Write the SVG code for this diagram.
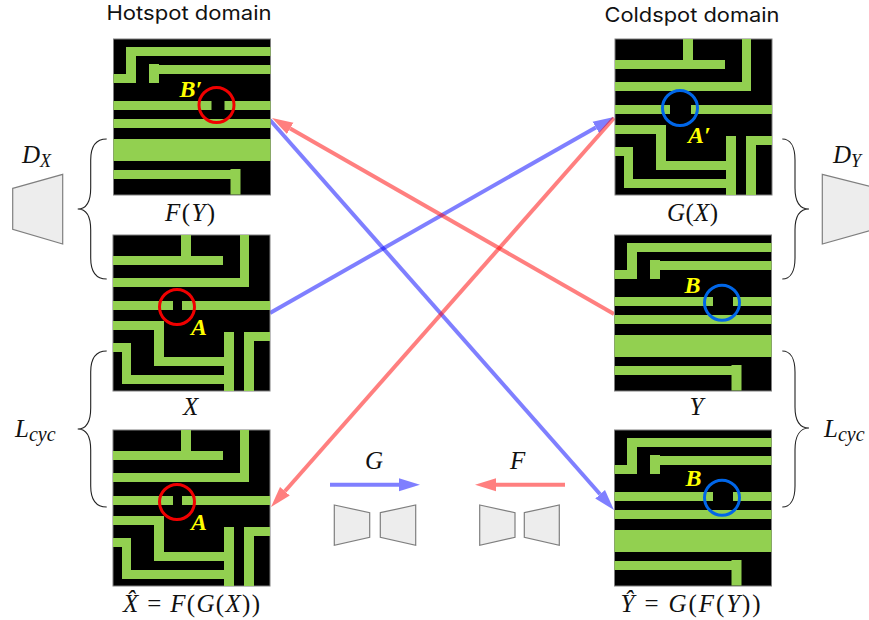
<svg xmlns="http://www.w3.org/2000/svg" xmlns:xlink="http://www.w3.org/1999/xlink" width="869" height="620" viewBox="0 0 869 620">
<style>
.bg{fill:#000;stroke:#7f7f7f;stroke-width:1}
.w{fill:#92d050}
.cr{fill:none;stroke:#f00000;stroke-width:3}
.cb{fill:none;stroke:#0066e8;stroke-width:3}
.tr{fill:#ededed;stroke:#7f7f7f;stroke-width:1.2}
.br{fill:none;stroke:#222;stroke-width:1.1}
.hd{font-family:Inter,"Noto Sans",sans-serif;font-size:20px;fill:#111}
.m{font-family:"Liberation Serif",serif;font-size:25px;fill:#111}
.i{font-style:italic}
.y{font-family:"Liberation Serif",serif;font-size:24px;font-weight:bold;font-style:italic;fill:#ffff00}
.ab{fill:none;stroke:#0000ff;stroke-opacity:.5;stroke-width:4}
.ar{fill:none;stroke:#ff0000;stroke-opacity:.5;stroke-width:4}
</style>
<defs>
<marker id="hb" markerUnits="userSpaceOnUse" markerWidth="22" markerHeight="14" refX="0" refY="7" orient="auto"><path d="M0,0.500L21,7L0,13.500Z" fill="#0000ff" fill-opacity=".5"/></marker>
<marker id="hr" markerUnits="userSpaceOnUse" markerWidth="22" markerHeight="14" refX="0" refY="7" orient="auto"><path d="M0,0.500L21,7L0,13.500Z" fill="#ff0000" fill-opacity=".5"/></marker>
<g id="w1"><path class="w" d="M68,0h10v21h32v9H0v-9h68zM127,0h9v52H0v-9h127z"/>
<path class="w" d="M0,86h51v36h70v9H41V95H0zM0,108h18v32h103v9H9V117H0zM111,97h10v59h-10zM131,97h26v9h-16v50h-10z"/></g>
<g id="w2"><path class="w" d="M12.500,8H157v9H22.500V44H0V35H12.500zM35.500,25h10v1H157v9H45.500v9h-10zM0,80h157v9H0zM0,100h157v22H0zM0,131h117v-1h10v25.500h-10v-15.500H0zM0,62h157v9H0z"/></g>
</defs>

<g id="connectors">
<line class="ab" x1="270" y1="120" x2="600.100" y2="494.250" marker-end="url(#hb)"/>
<line class="ab" x1="270" y1="313" x2="595.800" y2="127.400" marker-end="url(#hb)"/>
<line class="ar" x1="614" y1="314" x2="290.200" y2="128.400" marker-end="url(#hr)"/>
<line class="ar" x1="614" y1="118" x2="284.900" y2="491.250" marker-end="url(#hr)"/>
<line class="ab" x1="330" y1="484.700" x2="399" y2="484.700" marker-end="url(#hb)"/>
<line class="ar" x1="565" y1="484.700" x2="496" y2="484.700" marker-end="url(#hr)"/>
</g>

<g id="hotspot-title"><text class="hd" x="106.500" y="20" textLength="165" lengthAdjust="spacingAndGlyphs">Hotspot domain</text></g>
<g id="coldspot-title"><text class="hd" x="604.500" y="22" textLength="175" lengthAdjust="spacingAndGlyphs">Coldspot domain</text></g>

<g id="node-FY" transform="translate(113.500,39)">
<rect class="bg" width="157" height="156"/>
<use xlink:href="#w2"/>
<rect x="98" y="60" width="13" height="11" fill="#000"/>
<circle class="cr" cx="103" cy="66" r="17.500"/>
<text class="y" x="66" y="57.500">B′</text>
<text class="m" x="51.500" y="182" textLength="50"><tspan class="i">F</tspan>(<tspan class="i">Y</tspan>)</text>
</g>

<g id="node-X" transform="translate(113,235)">
<rect class="bg" width="157" height="156"/>
<use xlink:href="#w1"/>
<path class="w" d="M0,66h60v9H0zM69,66h88v9H69z"/>
<circle class="cr" cx="64" cy="72" r="17.500"/>
<text class="y" x="78" y="100">A</text>
<text class="m" x="70" y="180"><tspan class="i">X</tspan></text>
</g>

<g id="node-XHat" transform="translate(113,430)">
<rect class="bg" width="157" height="156"/>
<use xlink:href="#w1"/>
<path class="w" d="M0,66h60v9H0zM69,66h88v9H69z"/>
<circle class="cr" cx="64" cy="72" r="17.500"/>
<text class="y" x="78" y="100">A</text>
<text class="m" x="10" y="182" textLength="137"><tspan class="i">X̂</tspan> = <tspan class="i">F</tspan>(<tspan class="i">G</tspan>(<tspan class="i">X</tspan>))</text>
</g>

<g id="node-GX" transform="translate(615,39)">
<rect class="bg" width="157" height="156"/>
<use xlink:href="#w1"/>
<path class="w" d="M0,66h55v9H0zM76,66h81v9H76z"/>
<circle class="cb" cx="65" cy="69" r="17.500"/>
<text class="y" x="73" y="104">A′</text>
<text class="m" x="52" y="182" textLength="51"><tspan class="i">G</tspan>(<tspan class="i">X</tspan>)</text>
</g>

<g id="node-Y" transform="translate(614.500,235)">
<rect class="bg" width="157" height="156"/>
<use xlink:href="#w2"/>
<rect x="98.500" y="60" width="20" height="11" fill="#000"/>
<circle class="cb" cx="107.500" cy="67.700" r="17.500"/>
<text class="y" x="70" y="57.500">B</text>
<text class="m" x="75" y="180"><tspan class="i">Y</tspan></text>
</g>

<g id="node-YHat" transform="translate(614.500,430)">
<rect class="bg" width="157" height="156"/>
<use xlink:href="#w2"/>
<rect x="98.500" y="60" width="20" height="11" fill="#000"/>
<circle class="cb" cx="107.500" cy="67.700" r="17.500"/>
<text class="y" x="71" y="56">B</text>
<text class="m" x="6" y="182" textLength="140"><tspan class="i">Ŷ</tspan> = <tspan class="i">G</tspan>(<tspan class="i">F</tspan>(<tspan class="i">Y</tspan>))</text>
</g>

<g id="node-DX">
<polygon class="tr" points="12.700,188.300 62.700,174.300 62.700,244 12.700,229.300"/>
<text class="m" x="22" y="163"><tspan class="i">D</tspan><tspan class="i" font-size="18" dy="4">X</tspan></text>
</g>
<g id="node-DY">
<polygon class="tr" points="822.300,174.300 872,187 872,230 822.300,244"/>
<text class="m" x="833" y="163"><tspan class="i">D</tspan><tspan class="i" font-size="18" dy="4">Y</tspan></text>
</g>
<g id="node-G">
<polygon class="tr" points="334.300,505 369.700,512.700 369.700,537.300 334.300,545.300"/>
<polygon class="tr" points="380.300,512.700 415.700,505 415.700,545.300 380.300,537.300"/>
<text class="m" x="365" y="469"><tspan class="i">G</tspan></text>
</g>
<g id="node-F">
<polygon class="tr" points="479.700,505 515,512.700 515,537.300 479.700,545.300"/>
<polygon class="tr" points="524.300,512.700 559.300,505 559.300,545.300 524.300,537.300"/>
<text class="m" x="510" y="469"><tspan class="i">F</tspan></text>
</g>

<g id="braces">
<path class="br" d="M106.700,139C96,139 90.700,146 90.700,160V188C90.700,202 86,209 77.700,209C86,209 90.700,216 90.700,230V258C90.700,272 96,279 106.700,279"/>
<path class="br" d="M106.700,351C96,351 90.700,358 90.700,372V408C90.700,422 86,429 77.700,429C86,429 90.700,436 90.700,450V486C90.700,500 96,507 106.700,507"/>
<path class="br" d="M782.300,139C790,139 795,146 795,160V188C795,202 800,209 809,209C800,209 795,216 795,230V258C795,272 790,279 782.300,279"/>
<path class="br" d="M782.300,351C790,351 795,358 795,372V407C795,421 800,428 809,428C800,428 795,436 795,450V486C795,500 790,507 782.300,507"/>
</g>
<g id="Lcyc-left"><text class="m" x="15" y="437" font-size="27"><tspan class="i">L</tspan><tspan class="i" font-size="20" dy="4">cyc</tspan></text></g>
<g id="Lcyc-right"><text class="m" x="824" y="437" font-size="27"><tspan class="i">L</tspan><tspan class="i" font-size="20" dy="4">cyc</tspan></text></g>
</svg>
